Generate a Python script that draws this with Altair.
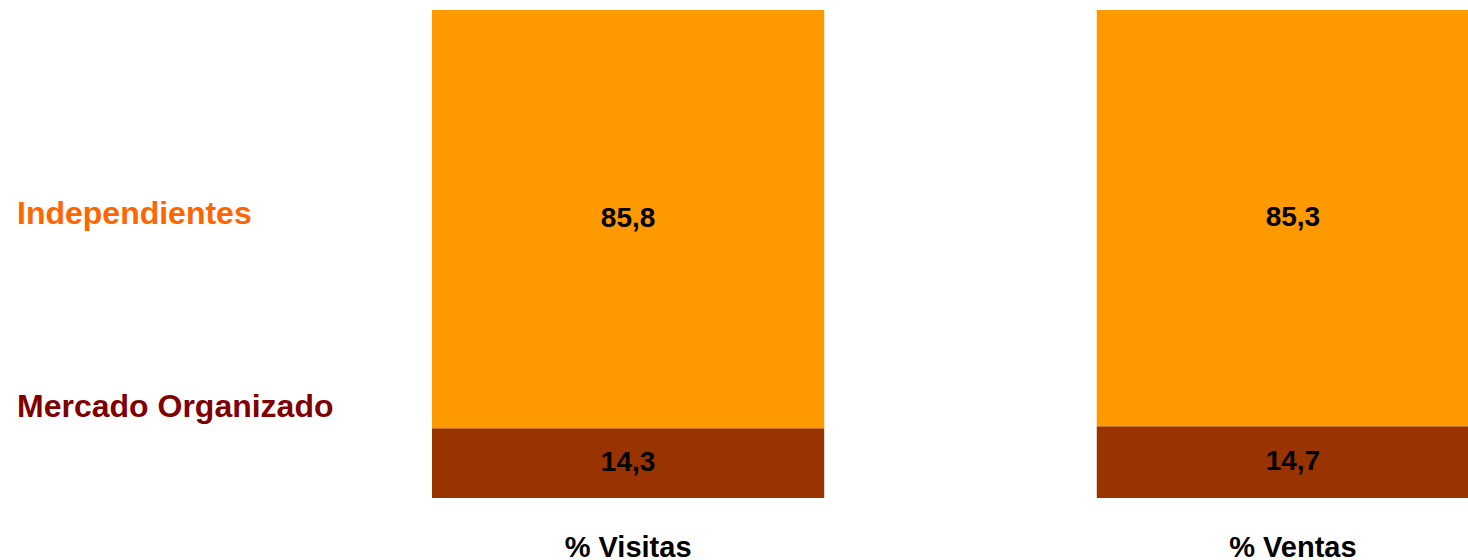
import altair as alt
import pandas as pd

measures = ["% Visitas", "% Ventas"]
mercado = [14.3, 14.7]
independientes = [85.8, 85.3]
series = ["Mercado Organizado", "Independientes"]
bar_colors = ["#993300", "#FF9900"]
label_colors = ["#800000", "#FF6600"]

rows = []
for i, m in enumerate(measures):
    rows.append({"measure": m, "series": series[0], "order": 0, "value": mercado[i]})
    rows.append({"measure": m, "series": series[1], "order": 1, "value": independientes[i]})
df = pd.DataFrame(rows)

FONT = "Liberation Sans"

base = alt.Chart(df).transform_stack(
    stack="value", groupby=["measure"], as_=["y0", "y1"],
    sort=[alt.SortField("order", order="ascending")]
).transform_calculate(
    mid="(datum.y0 + datum.y1) / 2",
    label="replace(format(datum.value, '.1f'), '.', ',')"
)

xenc = alt.X(
    "measure:N", sort=measures, title=None,
    scale=alt.Scale(range=[432, 1489], paddingInner=0.41, paddingOuter=0),
    axis=alt.Axis(labelAngle=0, domain=False, ticks=False, labelPadding=35,
                  labelFont=FONT, labelFontSize=29, labelFontWeight="bold",
                  labelColor="#000000", grid=False),
)
yscale = alt.Scale(domain=[0, 100])

bars = base.mark_bar(clip=True).encode(
    x=xenc,
    y=alt.Y("y0:Q", scale=yscale, axis=None),
    y2="y1:Q",
    color=alt.Color("series:N", scale=alt.Scale(domain=series, range=bar_colors), legend=None),
)

texts = base.mark_text(font=FONT, fontSize=28, fontWeight="bold", color="#000000",
                       baseline="middle", align="center").encode(
    x=alt.X("measure:N", sort=measures),
    y=alt.Y("mid:Q", scale=yscale),
    text="label:N",
)

lab_df = pd.DataFrame({"series": series, "color": label_colors, "ypix": [407, 214]})
labels = alt.Chart(lab_df).mark_text(font=FONT, fontSize=32, fontWeight="bold",
                                     align="left", baseline="alphabetic").encode(
    x=alt.value(17),
    y=alt.Y("ypix:Q", scale=None),
    text="series:N",
    color=alt.Color("color:N", scale=None),
)

chart = alt.layer(bars, texts, labels).properties(
    width=1468, height=488,
    padding={"left": 0, "top": 10, "right": 0, "bottom": 62},
    autosize=alt.AutoSizeParams(type="none"),
    background="#ffffff",
).configure_view(stroke=None, strokeWidth=0)

chart.save("out.html", embed_options={"renderer": "svg", "actions": False})
